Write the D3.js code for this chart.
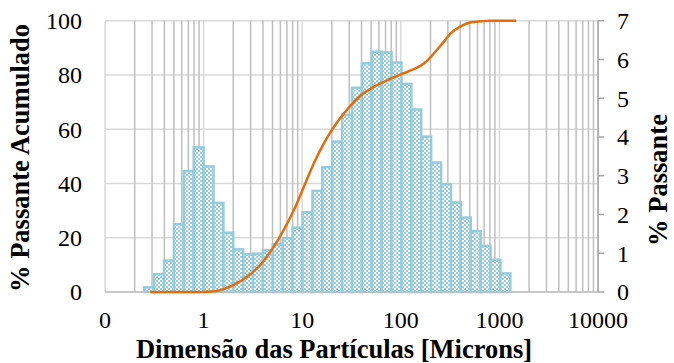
<!DOCTYPE html>
<html lang="pt">
<head>
  <meta charset="UTF-8">
  <title>Distribuição Granulométrica</title>
  <script src="https://d3js.org/d3.v7.min.js"></script>
  <style>
    body {
      margin: 0;
      background: #fff;
      overflow: hidden;
    }
    svg {
      display: block;
    }
    .tick-label { font-family: "Times New Roman", "Liberation Serif", Tinos, serif; font-size: 24px; fill: #000; }
    .axis-title { font-family: "Times New Roman", "Liberation Serif", Tinos, serif; font-size: 26.5px; font-weight: bold; fill: #000; }
  </style>
</head>
<body>
  <svg width="674" height="363"></svg>

  <script>
  // Bin edges of the histogram (microns)
  const binEdges = [0.25, 0.315, 0.397, 0.5, 0.63, 0.794, 1, 1.26, 1.587, 2, 2.52, 3.175,
                    4, 5.04, 6.35, 8, 10.08, 12.7, 16, 20.16, 25.4, 32, 40.3, 50.8, 64,
                    80.6, 101.6, 128, 161, 203, 256, 323, 406, 512, 645, 813, 1024, 1290];

  // % Passante per bin (right axis)
  const passante = [0.12, 0.46, 0.81, 1.75, 3.12, 3.73, 3.24, 2.30, 1.53, 1.10, 0.97, 0.99,
                    1.08, 1.23, 1.39, 1.66, 2.06, 2.61, 3.22, 3.88, 4.57, 5.27, 5.90, 6.20,
                    6.18, 5.92, 5.37, 4.71, 4.01, 3.34, 2.78, 2.31, 1.92, 1.57, 1.19, 0.83, 0.48];

  // Cumulative curve: size (microns) and % Passante Acumulado (left axis)
  const cumSize = [0.287, 0.5, 0.93, 1.2, 1.48, 2.02, 2.76, 3.77, 5.15, 6.51, 8.24, 10.4, 13.1,
                   16.6, 21, 26.6, 33.6, 39.3, 53.6, 73.4, 100, 137, 173, 202, 256, 323,
                   409, 517, 653, 800, 1483];
  const cumPct  = [0, 0, 0, 0.15, 0.7, 2.6, 5.6, 10, 16.7, 22.9, 30.2, 38.8, 47.4,
                   54.8, 60.9, 65.9, 70.1, 72.4, 75.7, 78.1, 80.2, 82.2, 84.3, 86.7, 91, 95.4,
                   98, 99.4, 99.8, 100, 100];

  const xTickValues = [0.1, 1, 10, 100, 1000, 10000];
  const xTickLabels = ["0", "1", "10", "100", "1000", "10000"];
  const leftTicks = [0, 20, 40, 60, 80, 100];
  const rightTicks = [0, 1, 2, 3, 4, 5, 6, 7];

  // plot area
  const plotLeft = 105, plotRight = 598, plotTop = 20.7, plotBottom = 292;

  const svg = d3.select("svg");

  const x = d3.scaleLog().domain([0.1, 10000]).range([plotLeft, plotRight]);
  const yLeft = d3.scaleLinear().domain([0, 100]).range([plotBottom, plotTop]);
  const yRight = d3.scaleLinear().domain([0, 7]).range([plotBottom, plotTop]);

  // bar fill pattern (small checker)
  const defs = svg.append("defs");
  const pat = defs.append("pattern")
      .attr("id", "checker")
      .attr("width", 4).attr("height", 4)
      .attr("patternUnits", "userSpaceOnUse");
  pat.append("rect").attr("width", 4).attr("height", 4).attr("fill", "#ffffff");
  pat.append("rect").attr("width", 2).attr("height", 2).attr("fill", "#93cddd");
  pat.append("rect").attr("x", 2).attr("y", 2).attr("width", 2).attr("height", 2).attr("fill", "#93cddd");

  // horizontal gridlines
  svg.append("g")
    .selectAll("line")
    .data(leftTicks)
    .join("line")
      .attr("x1", plotLeft).attr("x2", plotRight)
      .attr("y1", d => yLeft(d)).attr("y2", d => yLeft(d))
      .attr("stroke", "#d9d9d9")
      .attr("stroke-width", 1.5);

  // vertical gridlines: minor (darker) and major (lighter)
  const minorTicks = [];
  for (let dec = 0.1; dec < 10000; dec *= 10) {
    for (let m = 2; m <= 9; m++) minorTicks.push(dec * m);
  }
  svg.append("g")
    .selectAll("line")
    .data(minorTicks)
    .join("line")
      .attr("x1", d => x(d)).attr("x2", d => x(d))
      .attr("y1", plotTop).attr("y2", plotBottom)
      .attr("stroke", "#bfbfbf")
      .attr("stroke-width", 1.5);
  svg.append("g")
    .selectAll("line")
    .data(xTickValues)
    .join("line")
      .attr("x1", d => x(d)).attr("x2", d => x(d))
      .attr("y1", plotTop).attr("y2", plotBottom)
      .attr("stroke", "#d9d9d9")
      .attr("stroke-width", 1.5);

  // histogram bars
  const bins = passante.map((v, i) => ({ x0: binEdges[i], x1: binEdges[i + 1], v: v }));
  svg.append("g")
    .selectAll("rect")
    .data(bins)
    .join("rect")
      .attr("x", d => x(d.x0))
      .attr("width", d => x(d.x1) - x(d.x0))
      .attr("y", d => yRight(d.v))
      .attr("height", d => yRight(0) - yRight(d.v))
      .attr("fill", "url(#checker)")
      .attr("stroke", "#93cddd")
      .attr("stroke-width", 2.5);

  // bottom axis line
  svg.append("line")
    .attr("x1", plotLeft).attr("x2", plotRight)
    .attr("y1", plotBottom).attr("y2", plotBottom)
    .attr("stroke", "#bfbfbf").attr("stroke-width", 1.5);

  // right axis line with outward ticks
  svg.append("line")
    .attr("x1", plotRight).attr("x2", plotRight)
    .attr("y1", plotTop).attr("y2", plotBottom)
    .attr("stroke", "#a6a6a6").attr("stroke-width", 1.5);
  svg.append("g")
    .selectAll("line")
    .data(rightTicks)
    .join("line")
      .attr("x1", plotRight).attr("x2", plotRight + 6)
      .attr("y1", d => yRight(d)).attr("y2", d => yRight(d))
      .attr("stroke", "#a6a6a6").attr("stroke-width", 1.5);

  // cumulative curve
  const line = d3.line()
    .x((d, i) => x(cumSize[i]))
    .y(d => yLeft(d))
    .curve(d3.curveMonotoneX);
  svg.append("path")
    .datum(cumPct)
    .attr("d", line)
    .attr("fill", "none")
    .attr("stroke", "#e46c0a")
    .attr("stroke-width", 2.5);

  // tick labels
  svg.append("g")
    .selectAll("text")
    .data(leftTicks)
    .join("text")
      .attr("class", "tick-label")
      .attr("x", 82)
      .attr("y", d => yLeft(d))
      .attr("dy", "0.35em")
      .attr("text-anchor", "end")
      .text(d => d);

  svg.append("g")
    .selectAll("text")
    .data(rightTicks)
    .join("text")
      .attr("class", "tick-label")
      .attr("x", 617)
      .attr("y", d => yRight(d))
      .attr("dy", "0.35em")
      .attr("text-anchor", "start")
      .text(d => d);

  svg.append("g")
    .selectAll("text")
    .data(xTickValues)
    .join("text")
      .attr("class", "tick-label")
      .attr("x", d => x(d))
      .attr("y", 328)
      .attr("text-anchor", "middle")
      .text((d, i) => xTickLabels[i]);

  // axis titles
  svg.append("text")
    .attr("class", "axis-title")
    .attr("x", 334).attr("y", 358)
    .attr("text-anchor", "middle")
    .text("Dimensão das Partículas [Microns]");

  svg.append("text")
    .attr("class", "axis-title")
    .attr("transform", "translate(29,158) rotate(-90)")
    .attr("text-anchor", "middle")
    .text("% Passante Acumulado");

  svg.append("text")
    .attr("class", "axis-title")
    .attr("transform", "translate(667,180) rotate(-90)")
    .attr("text-anchor", "middle")
    .text("% Passante");
  </script>
</body>
</html>
